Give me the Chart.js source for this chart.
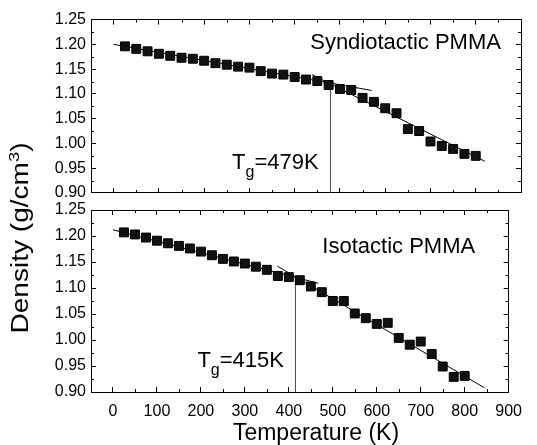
<!DOCTYPE html>
<html><head><meta charset="utf-8">
<script src="https://cdn.jsdelivr.net/npm/chart.js@4/dist/chart.umd.min.js"></script>
<style>
html,body{margin:0;padding:0;background:#fff;}
#wrap{position:relative;width:537px;height:445px;background:#fff;}
canvas{position:absolute;left:0;top:0;}
</style></head><body>
<div id="wrap"><canvas id="c1" width="537" height="445"></canvas><canvas id="c2" width="537" height="445"></canvas></div>
<script>
// ---- data ----
const temperatures = [25,50,75,100,125,150,175,200,225,250,275,300,325,350,375,400,425,450,475,500,525,550,575,600,625,650,675,700,725,750,775,800];
const syndioDensity = [1.196,1.191,1.186,1.181,1.177,1.173,1.171,1.167,1.162,1.159,1.155,1.153,1.146,1.141,1.139,1.134,1.129,1.126,1.118,1.110,1.108,1.092,1.084,1.071,1.061,1.029,1.025,1.004,0.995,0.989,0.979,0.975];
const isoDensity = [1.207,1.203,1.197,1.191,1.186,1.181,1.176,1.170,1.163,1.156,1.151,1.147,1.141,1.135,1.123,1.121,1.115,1.103,1.092,1.075,1.075,1.051,1.042,1.031,1.033,1.004,0.991,0.997,0.973,0.949,0.929,0.931];
const syndioGlassFitT = [0,570], syndioGlassFitD = [1.200,1.107];
const syndioMeltFitT = [438,820], syndioMeltFitD = [1.139,0.964];
const isoGlassFitT = [0,467], isoGlassFitD = [1.212,1.109];
const isoMeltFitT = [374,845], isoMeltFitD = [1.142,0.908];
const syndioTg = 479, syndioTgDensity = 1.120;
const isoTg = 415, isoTgDensity = 1.119;
const xTickValues = [0,100,200,300,400,500,600,700,800,900];
const xMinorTicks = [-50,50,150,250,350,450,550,650,750,850];
const yTickValues = [0.90,0.95,1.00,1.05,1.10,1.15,1.20,1.25];
const yMinorTicks = [0.925,0.975,1.025,1.075,1.125,1.175,1.225];
const X_MIN = -50, X_MAX = 900, Y_MIN = 0.90, Y_MAX = 1.25;

const FONT = "'Liberation Sans', Arial, sans-serif";
const pts = (xs, ys) => xs.map((x, i) => ({x, y: ys[i]}));

const panelPlugin = {
  id: 'panelExtras',
  afterDraw(chart, args, opts) {
    const ctx = chart.ctx, a = chart.chartArea;
    const xs = chart.scales.x, ys = chart.scales.y;
    ctx.save();
    ctx.strokeStyle = '#000'; ctx.lineWidth = 1;
    ctx.beginPath();
    xMinorTicks.forEach(v => {
      const p = Math.round(xs.getPixelForValue(v)) + 0.5;
      ctx.moveTo(p, a.bottom); ctx.lineTo(p, a.bottom - 3);
      ctx.moveTo(p, a.top); ctx.lineTo(p, a.top + 3);
    });
    yMinorTicks.forEach(v => {
      const p = Math.round(ys.getPixelForValue(v)) + 0.5;
      ctx.moveTo(a.left, p); ctx.lineTo(a.left + 3, p);
      ctx.moveTo(a.right, p); ctx.lineTo(a.right - 3, p);
    });
    ctx.stroke();
    ctx.fillStyle = '#000';
    ctx.font = '22px ' + FONT;
    ctx.textAlign = 'center'; ctx.textBaseline = 'alphabetic';
    ctx.fillText(opts.label, xs.getPixelForValue(opts.labelT), ys.getPixelForValue(opts.labelD));
    // Tg label
    const bx = xs.getPixelForValue(opts.tg - 26), by = ys.getPixelForValue(0.948);
    ctx.font = '22px ' + FONT;
    const w1 = ctx.measureText('T').width;
    const w3 = ctx.measureText('=' + opts.tg + 'K').width;
    ctx.font = '16px ' + FONT;
    const w2 = ctx.measureText('g').width;
    const x0 = bx - (w1 + w2 + w3);
    ctx.textAlign = 'left';
    ctx.font = '22px ' + FONT; ctx.fillText('T', x0, by);
    ctx.font = '16px ' + FONT; ctx.fillText('g', x0 + w1, by + 8);
    ctx.font = '22px ' + FONT; ctx.fillText('=' + opts.tg + 'K', x0 + w1 + w2, by);
    if (opts.titles) {
      ctx.font = '23px ' + FONT; ctx.textAlign = 'center';
      ctx.fillText('Temperature (K)', 316, 440);
      ctx.translate(28, 238);
      ctx.rotate(-Math.PI / 2);
      ctx.scale(1.22, 1);
      ctx.font = '23px ' + FONT;
      const t1 = 'Density (g/cm', t2 = '3', t3 = ')';
      const m1 = ctx.measureText(t1).width, m3 = ctx.measureText(t3).width;
      ctx.font = '15px ' + FONT; const m2 = ctx.measureText(t2).width;
      const sx = -(m1 + m2 + m3) / 2;
      ctx.textAlign = 'left';
      ctx.font = '23px ' + FONT; ctx.fillText(t1, sx, 0);
      ctx.font = '15px ' + FONT; ctx.fillText(t2, sx + m1, -9);
      ctx.font = '23px ' + FONT; ctx.fillText(t3, sx + m1 + m2, 0);
    }
    ctx.restore();
  }
};

function makeChart(id, density, glassT, glassD, meltT, meltD, tg, tgD, cfg) {
  const axisCommon = {
    type: 'linear',
    grid: {drawOnChartArea: false, drawTicks: true, tickLength: -5, color: '#000', tickColor: '#000', tickWidth: 1},
    border: {display: true, color: '#000', width: 1}
  };
  const xTicksCb = s => { s.ticks = xTickValues.map(v => ({value: v})); };
  const yTicksCb = s => { s.ticks = yTickValues.map(v => ({value: v})); };
  return new Chart(document.getElementById(id), {
    type: 'scatter',
    data: {
      datasets: [
        {data: pts(temperatures, density), pointStyle: 'rect', pointRadius: 6.3, pointHoverRadius: 6.3,
         backgroundColor: '#111', borderColor: '#000', borderWidth: 1, showLine: false},
        {data: pts(glassT, glassD), showLine: true, pointRadius: 0, borderColor: '#000', borderWidth: 1},
        {data: pts(meltT, meltD), showLine: true, pointRadius: 0, borderColor: '#000', borderWidth: 1},
        {data: [{x: tg, y: Y_MIN}, {x: tg, y: tgD}], showLine: true, pointRadius: 0, borderColor: '#444', borderWidth: 1}
      ]
    },
    options: {
      responsive: false, animation: false, devicePixelRatio: 1,
      layout: {padding: {left: 0, right: 16, top: cfg.top, bottom: 0}},
      plugins: {legend: {display: false}, tooltip: {enabled: false}, panelExtras: cfg.extras},
      scales: {
        x: Object.assign({}, axisCommon, {position: 'bottom', min: X_MIN, max: X_MAX,
          afterBuildTicks: xTicksCb, afterFit: s => { s.height = 445 - cfg.bottom; },
          ticks: {display: cfg.xLabels, autoSkip: false, maxRotation: 0, padding: 15, color: '#000',
                  font: {family: FONT, size: 16}, callback: v => String(v)}}),
        x2: Object.assign({}, axisCommon, {position: 'top', min: X_MIN, max: X_MAX,
          afterBuildTicks: xTicksCb, afterFit: s => { s.height = 0; }, ticks: {display: false}}),
        y: Object.assign({}, axisCommon, {position: 'left', min: Y_MIN, max: Y_MAX,
          afterBuildTicks: yTicksCb, afterFit: s => { s.width = 91; },
          ticks: {padding: 10, color: '#000', font: {family: FONT, size: 16}, callback: v => v.toFixed(2)}}),
        y2: Object.assign({}, axisCommon, {position: 'right', min: Y_MIN, max: Y_MAX,
          afterBuildTicks: yTicksCb, afterFit: s => { s.width = 0; }, ticks: {display: false}})
      }
    },
    plugins: [panelPlugin]
  });
}

makeChart('c1', syndioDensity, syndioGlassFitT, syndioGlassFitD, syndioMeltFitT, syndioMeltFitD, syndioTg, syndioTgDensity,
  {top: 13, bottom: 193, xLabels: false,
   extras: {label: 'Syndiotactic PMMA', labelT: 645, labelD: 1.19, tg: syndioTg, titles: false}});
makeChart('c2', isoDensity, isoGlassFitT, isoGlassFitD, isoMeltFitT, isoMeltFitD, isoTg, isoTgDensity,
  {top: 210, bottom: 392, xLabels: true,
   extras: {label: 'Isotactic PMMA', labelT: 650, labelD: 1.167, tg: isoTg, titles: true}});
</script>
</body></html>
